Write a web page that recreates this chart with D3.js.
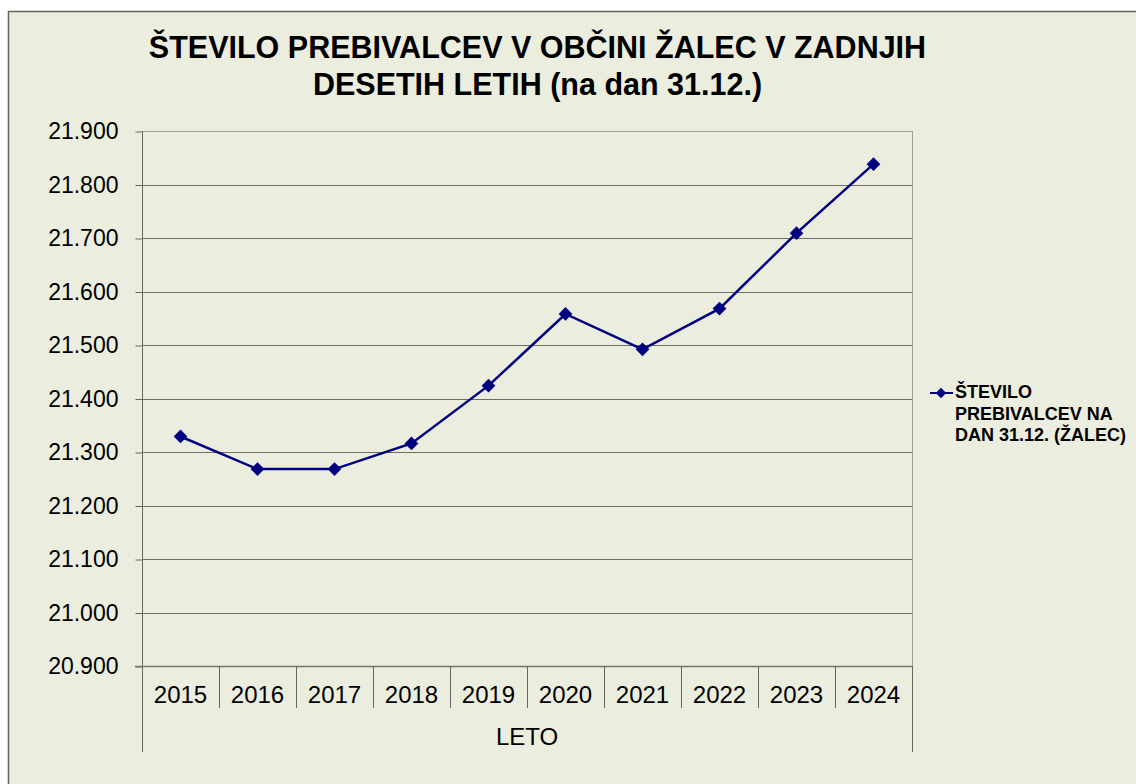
<!DOCTYPE html>
<html>
<head>
<meta charset="utf-8">
<script src="https://d3js.org/d3.v7.min.js"></script>
<style>
  body { margin: 0; background: #ffffff; }
  text { font-family: "Liberation Sans", Arial, sans-serif; }
</style>
</head>
<body>
<div id="chart"></div>
<script>
  // data
  var years = ["2015", "2016", "2017", "2018", "2019", "2020", "2021", "2022", "2023", "2024"];
  var population = [21329, 21268, 21268, 21316, 21424, 21558, 21492, 21568, 21709, 21838];
  var yTicks = [20900, 21000, 21100, 21200, 21300, 21400, 21500, 21600, 21700, 21800, 21900];
  var titleLines = ["ŠTEVILO PREBIVALCEV V OBČINI ŽALEC V ZADNJIH", "DESETIH LETIH (na dan 31.12.)"];
  var legendLines = ["ŠTEVILO", "PREBIVALCEV NA", "DAN 31.12. (ŽALEC)"];
  var xTitle = "LETO";

  var W = 1136, H = 784;
  var plot = { left: 142, right: 912, top: 131, bottom: 666 };

  var svg = d3.select("#chart").append("svg")
    .attr("width", W)
    .attr("height", H);

  // chart area background + frame
  svg.append("rect")
    .attr("x", 8.5).attr("y", 11.5)
    .attr("width", W + 10).attr("height", H + 10)
    .attr("fill", "#ebeddf")
    .attr("stroke", "#666660")
    .attr("stroke-width", 1.5);

  var xs = d3.scaleBand().domain(years).range([plot.left, plot.right]).padding(0);
  var ys = d3.scaleLinear().domain([20900, 21900]).range([plot.bottom, plot.top]);

  // gridlines
  svg.append("g").selectAll("line")
    .data(yTicks.slice(1))
    .enter().append("line")
    .attr("x1", plot.left).attr("x2", plot.right)
    .attr("y1", d => Math.round(ys(d)) + 0.5)
    .attr("y2", d => Math.round(ys(d)) + 0.5)
    .attr("stroke", d => d == 21900 ? "#a0a09a" : "#6e6e64")
    .attr("stroke-width", 1);

  // right border of plot (lighter above axis)
  svg.append("line")
    .attr("x1", plot.right + 0.5).attr("x2", plot.right + 0.5)
    .attr("y1", plot.top).attr("y2", plot.bottom)
    .attr("stroke", "#a0a09a");

  // y axis
  var yAxis = d3.axisLeft(ys)
    .tickValues(yTicks)
    .tickSize(7)
    .tickPadding(17)
    .tickFormat(d => d3.format(",")(d).replace(/,/g, "."));
  var gy = svg.append("g")
    .attr("transform", "translate(" + (plot.left + 0.5) + ",0.5)")
    .call(yAxis);
  gy.select(".domain").remove();
  gy.selectAll(".tick line").attr("stroke", "#666660");
  gy.selectAll("text")
    .attr("fill", "#000")
    .style("font-size", "23px")
    .style("font-family", "'Liberation Sans', Arial, sans-serif");
  svg.append("line")
    .attr("x1", plot.left + 0.5).attr("x2", plot.left + 0.5)
    .attr("y1", plot.top).attr("y2", 752)
    .attr("stroke", "#666660");

  // x axis (category table style)
  svg.append("line")
    .attr("x1", 135).attr("x2", plot.right + 1)
    .attr("y1", plot.bottom + 0.5).attr("y2", plot.bottom + 0.5)
    .attr("stroke", "#777770").attr("stroke-width", 1.5);
  svg.append("g").selectAll("line")
    .data(years.slice(1))
    .enter().append("line")
    .attr("x1", d => Math.round(xs(d)) + 0.5)
    .attr("x2", d => Math.round(xs(d)) + 0.5)
    .attr("y1", plot.bottom).attr("y2", 708)
    .attr("stroke", "#666660");
  svg.append("line")
    .attr("x1", plot.right + 0.5).attr("x2", plot.right + 0.5)
    .attr("y1", plot.bottom).attr("y2", 752)
    .attr("stroke", "#666660");

  svg.append("g").selectAll("text")
    .data(years)
    .enter().append("text")
    .attr("x", d => xs(d) + xs.bandwidth() / 2)
    .attr("y", 703)
    .attr("text-anchor", "middle")
    .style("font-size", "24px")
    .text(d => d);

  svg.append("text")
    .attr("x", (plot.left + plot.right) / 2)
    .attr("y", 745)
    .attr("text-anchor", "middle")
    .style("font-size", "24px")
    .text(xTitle);

  // line + markers
  var line = d3.line()
    .x((d, i) => xs(years[i]) + xs.bandwidth() / 2)
    .y(d => ys(d));
  svg.append("path")
    .datum(population)
    .attr("d", line)
    .attr("fill", "none")
    .attr("stroke", "#000080")
    .attr("stroke-width", 2.5);

  var diamond = d3.symbol().type(d3.symbolDiamond2).size(120);
  svg.append("g").selectAll("path")
    .data(population)
    .enter().append("path")
    .attr("d", diamond)
    .attr("transform", (d, i) => "translate(" + (xs(years[i]) + xs.bandwidth() / 2) + "," + ys(d) + ")")
    .attr("fill", "#000080");

  // title
  svg.append("g").selectAll("text")
    .data(titleLines)
    .enter().append("text")
    .attr("x", 537.5)
    .attr("y", (d, i) => 58 + i * 37)
    .attr("text-anchor", "middle")
    .style("font-size", "30.5px")
    .style("font-weight", "bold")
    .text(d => d);

  // legend
  svg.append("line")
    .attr("x1", 930).attr("x2", 953)
    .attr("y1", 393).attr("y2", 393)
    .attr("stroke", "#000080").attr("stroke-width", 2);
  svg.append("path")
    .attr("d", d3.symbol().type(d3.symbolDiamond2).size(70))
    .attr("transform", "translate(941,393)")
    .attr("fill", "#000080");
  svg.append("g").selectAll("text")
    .data(legendLines)
    .enter().append("text")
    .attr("x", 955)
    .attr("y", (d, i) => 398 + i * 21.5)
    .style("font-size", "18px")
    .style("font-weight", "bold")
    .text(d => d);
</script>
</body>
</html>
